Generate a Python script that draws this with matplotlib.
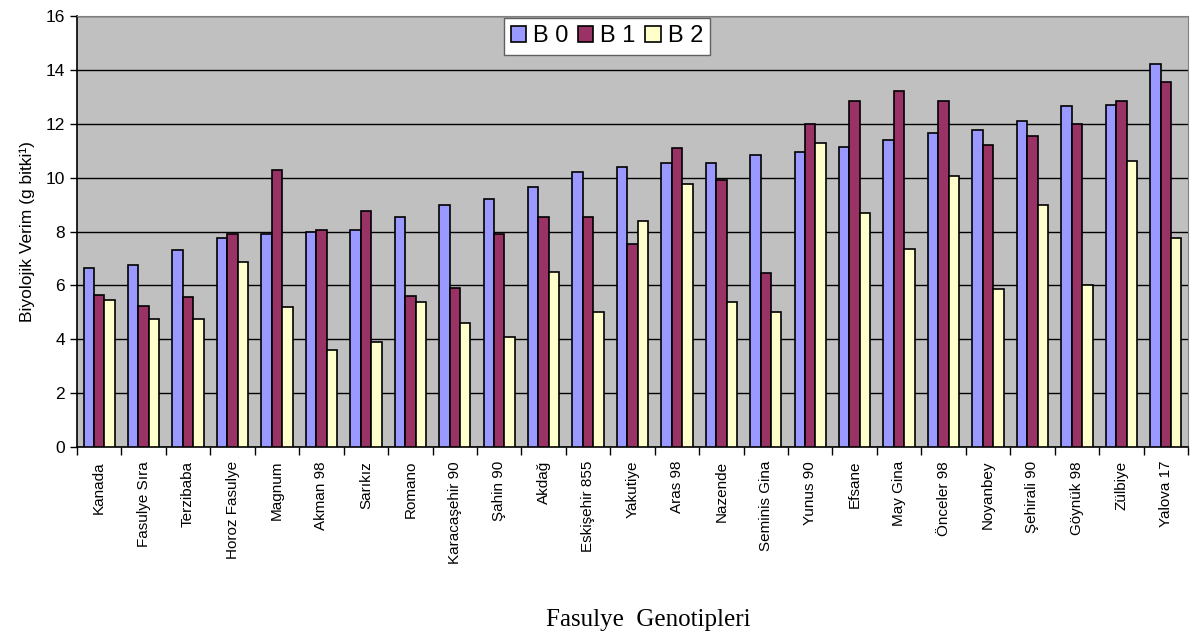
import matplotlib
matplotlib.use('Agg')
import matplotlib.pyplot as plt
import numpy as np

# genotipler ve B0/B1/B2 biyolojik verim degerleri
genotipler = ['Kanada', 'Fasulye Sıra', 'Terzibaba', 'Horoz Fasulye', 'Magnum', 'Akman 98',
              'Sarıkız', 'Romano', 'Karacaşehir 90', 'Şahin 90', 'Akdağ', 'Eskişehir 855',
              'Yakutiye', 'Aras 98', 'Nazende', 'Seminis Gina', 'Yunus 90', 'Efsane',
              'May Gina', 'Önceler 98', 'Noyanbey', 'Şehirali 90', 'Göynük 98', 'Zülbiye',
              'Yalova 17']
b0 = [6.65, 6.75, 7.3, 7.75, 7.9, 8.0, 8.05, 8.55, 9.0, 9.2, 9.65, 10.2, 10.4,
      10.55, 10.55, 10.85, 10.95, 11.15, 11.4, 11.65, 11.75, 12.1, 12.65, 12.7, 14.2]
b1 = [5.65, 5.25, 5.55, 7.9, 10.3, 8.05, 8.75, 5.6, 5.9, 7.9, 8.55, 8.55, 7.55,
      11.1, 9.9, 6.45, 12.0, 12.85, 13.2, 12.85, 11.2, 11.55, 12.0, 12.85, 13.55]
b2 = [5.45, 4.75, 4.75, 6.85, 5.2, 3.6, 3.9, 5.4, 4.6, 4.1, 6.5, 5.0, 8.4,
      9.75, 5.4, 5.0, 11.3, 8.7, 7.35, 10.05, 5.85, 9.0, 6.0, 10.6, 7.75]
seriler = ['B 0', 'B 1', 'B 2']
renkler = ['#9999FF', '#993366', '#FFFFCC']

plt.rcParams['font.family'] = ['Liberation Sans', 'DejaVu Sans']

fig = plt.figure(figsize=(11.96, 6.37), dpi=100)
ax = fig.add_axes([77/1196, 1 - 447/637, (1188-77)/1196, (447-16)/637])

x = np.arange(len(genotipler))
w = 0.235
for i, (vals, ad, renk) in enumerate(zip([b0, b1, b2], seriler, renkler)):
    ax.bar(x + (i - 1) * w, vals, w, color=renk, edgecolor='black', linewidth=1.2,
           label=ad, zorder=3)

ax.set_facecolor('#C0C0C0')
ax.set_xlim(-0.5, len(genotipler) - 0.5)
ax.set_ylim(0, 16)
ax.set_yticks(range(0, 17, 2))
ax.yaxis.grid(True, color='black', linewidth=1, zorder=0)
ax.tick_params(axis='y', labelsize=12.5, length=5, width=1)

ax.set_xticks(x)
ax.set_xticklabels(genotipler, rotation=90, fontsize=11)
ax.set_xticks(np.arange(-0.5, len(genotipler)), minor=True)
ax.tick_params(axis='x', which='major', length=0, pad=10)
ax.tick_params(axis='x', which='minor', length=6, width=1)

for s in ['top', 'right']:
    ax.spines[s].set_color('#808080')
for s in ['left', 'bottom']:
    ax.spines[s].set_color('black')
    ax.spines[s].set_linewidth(1.2)

ax.set_ylabel('Biyolojik Verim (g bitki¹)', fontsize=12.5, labelpad=8)
fig.text(648/1196, 1 - 620/637, 'Fasulye  Genotipleri', ha='center', va='center',
         fontsize=18, family='Liberation Serif')

leg = ax.legend(loc='upper center', bbox_to_anchor=(0.477, 1.0), ncol=3, fontsize=17,
                frameon=True, fancybox=False, handlelength=0.65, handleheight=0.65,
                handletextpad=0.3, columnspacing=0.4, borderpad=0.3, borderaxespad=0.1)
leg.get_frame().set_edgecolor('#606060')
leg.get_frame().set_facecolor('white')
leg.get_frame().set_alpha(1)

fig.savefig('out.png', dpi=100)
